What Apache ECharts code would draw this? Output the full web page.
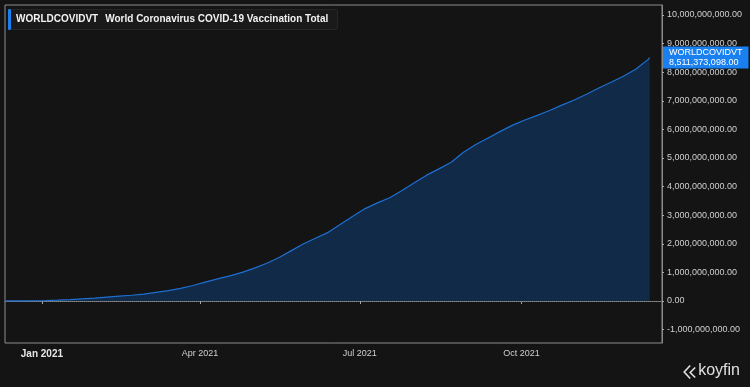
<!DOCTYPE html>
<html><head><meta charset="utf-8">
<script src="https://cdn.jsdelivr.net/npm/echarts@6/dist/echarts.min.js"></script>
<style>html,body{margin:0;padding:0;background:#141414}#c{width:750px;height:387px}</style>
</head><body><div id="c"></div>
<script>
// ---- data (values in billions of doses) ----
const seriesCode = 'WORLDCOVIDVT';
const seriesName = 'World Coronavirus COVID-19 Vaccination Total';
const dates = [
 '2020-12-11','2020-12-13','2020-12-20','2020-12-27','2021-01-03','2021-01-10','2021-01-17','2021-01-24','2021-01-31',
 '2021-02-07','2021-02-14','2021-02-21','2021-02-28','2021-03-07','2021-03-14','2021-03-21','2021-03-28',
 '2021-04-04','2021-04-11','2021-04-18','2021-04-25','2021-05-02','2021-05-09','2021-05-16','2021-05-23','2021-05-30',
 '2021-06-06','2021-06-13','2021-06-20','2021-06-27','2021-07-04','2021-07-11','2021-07-18','2021-07-25',
 '2021-08-01','2021-08-08','2021-08-15','2021-08-22','2021-08-29','2021-09-05','2021-09-12','2021-09-19','2021-09-26',
 '2021-10-03','2021-10-10','2021-10-17','2021-10-24','2021-10-31','2021-11-07','2021-11-14','2021-11-21','2021-11-28',
 '2021-12-05','2021-12-12','2021-12-13'
];
const values = [
 0.000,0.002,0.004,0.007,0.013,0.030,0.050,0.075,0.100,
 0.135,0.170,0.200,0.240,0.300,0.360,0.440,0.540,
 0.660,0.770,0.880,1.000,1.150,1.320,1.520,1.760,2.000,
 2.200,2.400,2.680,2.960,3.230,3.430,3.610,3.860,
 4.130,4.400,4.620,4.850,5.200,5.470,5.700,5.930,6.150,
 6.330,6.490,6.660,6.850,7.030,7.230,7.450,7.650,7.860,
 8.100,8.440,8.511373098
];
const yTicks = [-1,0,1,2,3,4,5,6,7,8,9,10];
const xTickDates = ['2021-01-01','2021-04-01','2021-07-01','2021-10-01'];
const xMinDate = '2020-12-11', xMaxDate = '2021-12-20';
const monthNames = ['Jan','Feb','Mar','Apr','May','Jun','Jul','Aug','Sep','Oct','Nov','Dec'];

// ---- helpers ----
const ts = s => { const p = s.split('-').map(Number); return Date.UTC(p[0], p[1]-1, p[2]); };
const fmtNum = v => Math.round(v*1e9).toLocaleString('en-US') + '.00';
const seriesData = dates.map((d,i) => [ts(d), values[i]]);
const lastValue = values[values.length-1];

const chart = echarts.init(document.getElementById('c'), null, {renderer:'canvas'});
const FONT = '"Liberation Sans", Arial, sans-serif';
chart.setOption({
  backgroundColor:'#141414',
  animation:false,
  textStyle:{fontFamily:FONT},
  title:{
    left:8, top:9,
    text:'{bar|}{a|'+seriesCode+'}{b|'+seriesName+'}',
    backgroundColor:'#1a1a1a', borderColor:'#262626', borderWidth:1, borderRadius:2,
    padding:[0,10,0,0],
    textStyle:{rich:{
      bar:{width:3,height:21,backgroundColor:'#1a7ff0',borderRadius:1},
      a:{color:'#f2f2f2',fontWeight:'bold',fontSize:10,fontFamily:FONT,padding:[0,0,0,5]},
      b:{color:'#f2f2f2',fontWeight:'bold',fontSize:10,fontFamily:FONT,padding:[0,0,0,7]}
    }}
  },
  grid:{left:5,right:88,top:5,bottom:44,show:true,borderColor:'#8c8c8c',borderWidth:1,containLabel:false},
  xAxis:{
    type:'value', min:ts(xMinDate), max:ts(xMaxDate),
    axisLine:{show:true,lineStyle:{color:'#8c8c8c'}},
    axisTick:{show:true,customValues:xTickDates.map(ts),length:3,lineStyle:{color:'#aaaaaa'}},
    axisLabel:{
      customValues:xTickDates.map(ts), margin:6, color:'#d0d0d0', fontSize:9,
      formatter:v=>{const d=new Date(v); const t=monthNames[d.getUTCMonth()]+' '+d.getUTCFullYear(); return d.getUTCMonth()===0?'{y|'+t+'}':t;},
      rich:{y:{fontWeight:'bold',fontSize:10,color:'#e6e6e6',fontFamily:FONT}}
    },
    splitLine:{show:false}
  },
  yAxis:{
    type:'value', position:'right', min:-1.47, max:10.35,
    axisLine:{show:true,lineStyle:{color:'#8c8c8c'}},
    axisTick:{show:true,customValues:yTicks,length:2,lineStyle:{color:'#aaaaaa'}},
    axisLabel:{customValues:yTicks,formatter:fmtNum,color:'#d0d0d0',fontSize:9,margin:5},
    splitLine:{show:false}
  },
  series:[{
    type:'line', data:seriesData, showSymbol:false, clip:false,
    lineStyle:{color:'#1e6fd2',width:1.2},
    areaStyle:{color:'#102a47',opacity:1},
    markLine:{silent:true,symbol:'none',label:{show:false},
      lineStyle:{type:'dotted',color:'#6a6a6a',width:1},
      data:[
        {yAxis:0},
        {yAxis:lastValue, lineStyle:{color:'rgba(0,0,0,0)',type:'solid'},
         label:{show:true, position:'end', distance:1,
           formatter:()=>seriesCode+'\n'+fmtNum(lastValue),
           backgroundColor:'#1a80f0', color:'#ffffff', fontSize:9, lineHeight:10,
           padding:[1,6,1,6], fontFamily:FONT}}
      ]}
  }],
  graphic:[
    {type:'group', right:10, bottom:6, children:[
      {type:'polyline', shape:{points:[[7,0],[1,6.5],[7,13]]}, style:{stroke:'#e0e0e0',lineWidth:1.6,fill:null}},
      {type:'polyline', shape:{points:[[12,2],[7,7],[12,12]]}, style:{stroke:'#e0e0e0',lineWidth:1.6,fill:null}},
      {type:'text', left:15, top:-3, style:{text:'koyfin',fill:'#e0e0e0',font:'16px '+FONT}}
    ]}
  ]
});
</script></body></html>
